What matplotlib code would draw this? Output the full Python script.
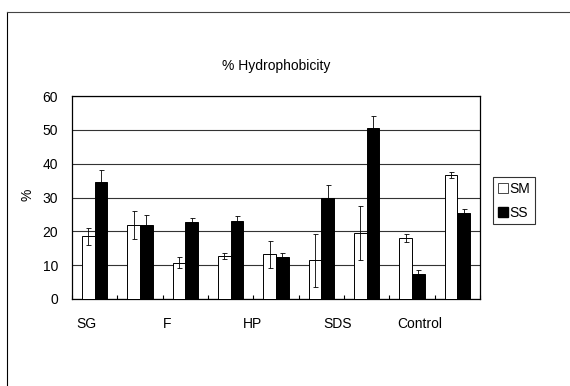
import matplotlib
matplotlib.use("Agg")
import matplotlib.pyplot as plt
import matplotlib.patches as patches
from matplotlib.lines import Line2D
import numpy as np

# values
group_labels = ["SG", "F", "HP", "SDS", "Control"]
label_pos = [0.81, 2.6, 4.49, 6.35, 8.18]
sm = [18.5, 21.8, 10.7, 12.7, 13.2, 11.4, 19.5, 17.9, 36.7]
sm_err = [2.4, 4.2, 1.6, 0.9, 4.0, 7.8, 7.9, 1.2, 0.9]
ss = [34.5, 21.9, 22.8, 23.0, 12.3, 29.8, 50.4, 7.4, 25.3]
ss_err = [3.7, 2.9, 1.2, 1.5, 1.2, 3.8, 3.7, 1.3, 1.2]

plt.rcParams['font.family'] = ['Liberation Sans', 'DejaVu Sans']

fig = plt.figure(figsize=(5.7, 3.86), dpi=100)
ax = fig.add_axes([72/570, 1-299/386, 408/570, 203/386])

x = np.arange(1, len(sm)+1)
w = 0.28
ax.bar(x - w/2, sm, w, color='white', edgecolor='black', linewidth=0.7, zorder=3)
ax.bar(x + w/2, ss, w, color='black', edgecolor='black', linewidth=0.7, zorder=3)
ax.errorbar(x - w/2, sm, yerr=sm_err, fmt='none', ecolor='black', elinewidth=0.6, capsize=1.8, capthick=0.6, zorder=4)
ax.errorbar(x + w/2, ss, yerr=ss_err, fmt='none', ecolor='black', elinewidth=0.6, capsize=1.8, capthick=0.6, zorder=4)

ax.set_xlim(0.5, len(sm)+0.5)
ax.set_ylim(0, 60)
ax.set_yticks(range(0, 61, 10))
ax.yaxis.grid(True, color='#333333', linewidth=0.8, zorder=0)
ax.set_axisbelow(True)
ax.set_xticks(label_pos)
ax.set_xticklabels(group_labels)
ax.set_xticks(np.arange(0.5, len(sm)+1, 1), minor=True)
ax.tick_params(axis='x', which='major', length=0, pad=13, labelsize=10)
ax.tick_params(axis='x', which='minor', direction='in', length=3, width=0.8)
ax.tick_params(axis='y', length=0, pad=10, labelsize=10)
for s in ax.spines.values():
    s.set_linewidth(0.9)

ax.set_title("% Hydrophobicity", fontsize=10, pad=19)
fig.text(27/570, 1-195/386, "%", rotation=90, fontsize=10, ha='center', va='center')

handles = [patches.Patch(facecolor='white', edgecolor='black', linewidth=0.5),
           patches.Patch(facecolor='black', edgecolor='black')]
leg = fig.legend(handles, ["SM", "SS"], loc='upper left',
                 bbox_to_anchor=(493/570, 1-177/386), fontsize=10,
                 frameon=True, fancybox=False, handlelength=0.7, handleheight=0.75,
                 handletextpad=0.15, borderpad=0.35, labelspacing=0.7, borderaxespad=0)
leg.get_frame().set_edgecolor('black')
leg.get_frame().set_linewidth(0.8)

# outer frame of the chart area
fig.add_artist(Line2D([7/570, 7/570], [0, 1-12/386], color='black', linewidth=0.8))
fig.add_artist(Line2D([7/570, 1], [1-12/386, 1-12/386], color='#444444', linewidth=0.8))

fig.savefig("out.png", dpi=100)
